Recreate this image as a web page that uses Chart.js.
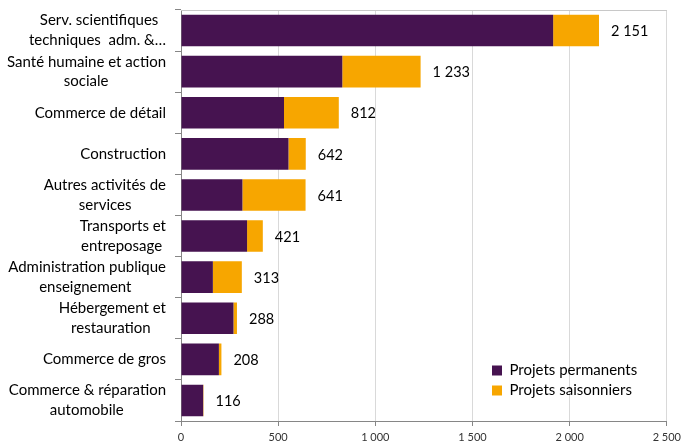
<!doctype html>
<html lang="fr">
<head>
<meta charset="utf-8">
<style>
  html, body { margin: 0; padding: 0; background: #fff; }
  #wrap { width: 686px; height: 443px; }
</style>
<script src="https://cdn.jsdelivr.net/npm/chart.js@4/dist/chart.umd.min.js"></script>
</head>
<body>
<div id="wrap"><canvas id="chart"></canvas></div>
<script>
// secteurs (libellés sur deux lignes comme dans l'original)
const categories = [
  ["Serv. scientifiques", "techniques  adm. &\u2026"],
  ["Santé humaine et action", "sociale"],
  "Commerce de détail",
  "Construction",
  ["Autres activités de", "services"],
  ["Transports et", "entreposage"],
  ["Administration publique", "enseignement"],
  ["Hébergement et", "restauration"],
  "Commerce de gros",
  ["Commerce & réparation", "automobile"]
];
const permanents  = [1915, 830, 530, 553, 316, 340, 164, 270, 195, 114];
const saisonniers = [236, 403, 282, 89, 325, 81, 149, 18, 13, 2];
const xTicks = [0, 500, 1000, 1500, 2000, 2500];

const FONT = "Lato, 'Open Sans', sans-serif";
const PURPLE = '#461350';
const ORANGE = '#f7a600';
const AXIS = '#868686';

const totals = permanents.map((v, i) => v + saisonniers[i]);

function fmt(v) {
  return String(v).replace(/\B(?=(\d{3})+(?!\d))/g, ' ');
}

// centre les lignes d'un libellé entre elles (Excel fait pareil)
const mctx = document.createElement('canvas').getContext('2d');
function centerLines(lbl) {
  if (!Array.isArray(lbl)) return lbl;
  mctx.font = '15px ' + FONT;
  const w = lbl.map(l => mctx.measureText(l).width);
  const max = Math.max(...w);
  const sp = mctx.measureText(' ').width;
  return lbl.map((l, i) => l + ' '.repeat(Math.round((max - w[i]) / 2 / sp)));
}

// légende dans le coin bas droit, totaux à droite des barres, trait du haut
const extras = {
  id: 'extras',
  beforeDraw(chart) {
    const lg = chart.legend;
    lg.left = 487; lg.top = 358; lg.right = 686; lg.bottom = 420;
  },
  beforeDatasetsDraw(chart) {
    const { ctx, chartArea: a } = chart;
    ctx.save();
    ctx.strokeStyle = '#c8c8c8';
    ctx.lineWidth = 1;
    ctx.beginPath();
    ctx.moveTo(a.left, Math.round(a.top) + 0.5);
    ctx.lineTo(a.right, Math.round(a.top) + 0.5);
    ctx.stroke();
    ctx.restore();
  },
  afterDatasetsDraw(chart) {
    const { ctx } = chart;
    const meta = chart.getDatasetMeta(1);
    ctx.save();
    ctx.font = '14.5px ' + FONT;
    ctx.fillStyle = '#000';
    ctx.textAlign = 'left';
    ctx.textBaseline = 'middle';
    meta.data.forEach((bar, i) => {
      ctx.fillText(fmt(totals[i]), bar.x + 12, bar.y + 1);
    });
    ctx.restore();
  }
};

new Chart(document.getElementById('chart'), {
  type: 'bar',
  data: {
    labels: categories,
    datasets: [
      { label: 'Projets permanents', data: permanents, backgroundColor: PURPLE, borderWidth: 0 },
      { label: 'Projets saisonniers', data: saisonniers, backgroundColor: ORANGE, borderWidth: 0 }
    ]
  },
  options: {
    indexAxis: 'y',
    responsive: true,
    maintainAspectRatio: false,
    animation: false,
    categoryPercentage: 0.77,
    barPercentage: 1,
    layout: { padding: { top: 10, right: 16, left: 0, bottom: 0 } },
    scales: {
      x: {
        stacked: true,
        min: 0,
        max: 2500,
        afterBuildTicks(scale) { scale.ticks = xTicks.map(v => ({ value: v })); },
        afterFit(scale) { scale.height = 22; },
        grid: { color: '#d9d9d9', tickColor: AXIS, tickLength: 5 },
        border: { color: AXIS },
        ticks: {
          font: { family: FONT, size: 11 },
          color: '#333',
          padding: 5,
          maxRotation: 0,
          callback: v => fmt(v)
        }
      },
      y: {
        stacked: true,
        afterFit(scale) {
          scale.width = 181;
          scale.paddingTop = 0;
          scale.paddingBottom = 0;
        },
        grid: { drawOnChartArea: false, offset: true, tickLength: 6, tickColor: AXIS },
        border: { color: AXIS },
        ticks: {
          font: { family: FONT, size: 15, lineHeight: 1.33 },
          color: '#000',
          padding: 9,
          autoSkip: false,
          callback(v, i) { return centerLines(categories[i]); }
        }
      }
    },
    plugins: {
      tooltip: { enabled: false },
      legend: {
        position: 'right',
        align: 'start',
        maxWidth: 1,
        labels: {
          boxWidth: 10,
          boxHeight: 10,
          padding: 5,
          color: '#000',
          font: { family: FONT, size: 15 }
        }
      }
    }
  },
  plugins: [extras]
});
</script>
</body>
</html>
